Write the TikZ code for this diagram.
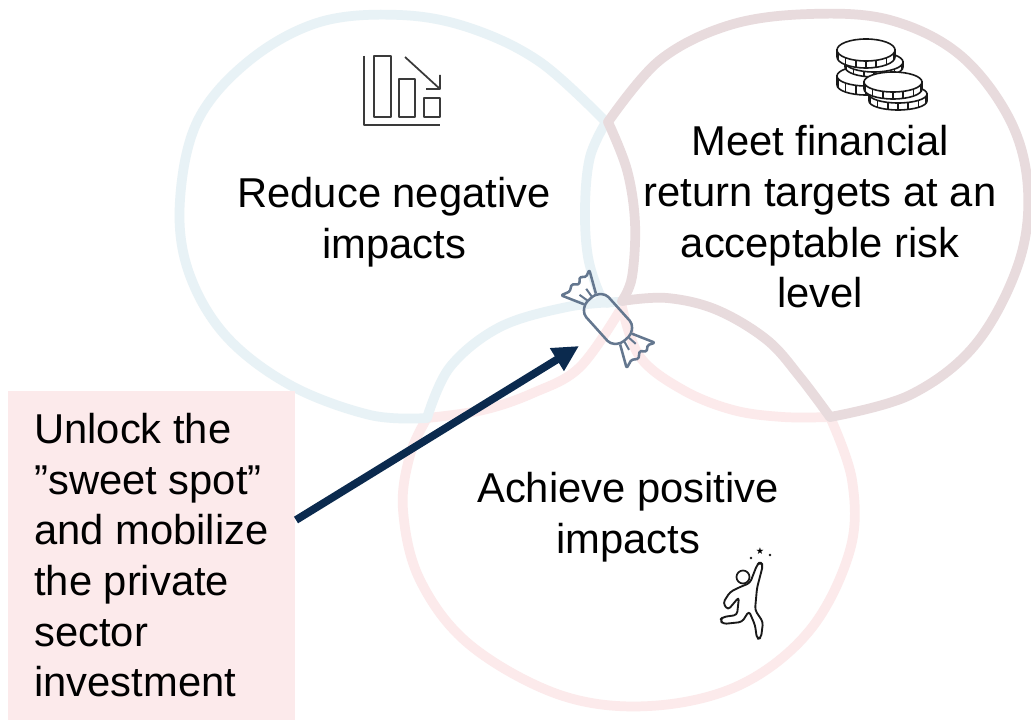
\documentclass[tikz,border=0pt]{standalone}
\usepackage{fontspec}
\setmainfont{Liberation Sans}
\newfontfamily\symfont{DejaVu Sans}
\usetikzlibrary{arrows.meta}
\definecolor{cblue}{HTML}{E8F2F6}
\definecolor{cmauve}{HTML}{E8DBDD}
\definecolor{cpink}{HTML}{FCEAEB}
\definecolor{cnavy}{HTML}{0B2A4E}
\definecolor{cicon}{HTML}{64778F}
\definecolor{cdark}{HTML}{3A3A3A}
\tikzset{
 ringb/.style={draw=cblue,line width=7.3pt,line cap=round,line join=round},
 ringm/.style={draw=cmauve,line width=7.3pt,line cap=round,line join=round},
 ringp/.style={draw=cpink,line width=7.3pt,line cap=round,line join=round},
 lbl/.style={font=\fontsize{31.3}{38}\selectfont,align=center,text=black,inner sep=0pt},
 ico/.style={draw=cdark,line width=1.3pt,line join=round},
 coin/.style={draw=black!90,fill=white,line width=1.2pt},
 candy/.style={draw=cicon,line width=1.9pt,line join=round},
}
\newcommand{\coinshape}[5]{% cx cy rx ry h
 \draw[coin] (#1-#3,#2) -- (#1-#3,#2+#5) arc[start angle=180,end angle=0,x radius=#3,y radius=#4] -- (#1+#3,#2) -- cycle;
 \foreach \t in {20,45,70,90,110,135,160}{\draw[black!90,line width=1pt] ({#1+#3*cos(\t)},{#2+#4*sin(\t)}) -- ++(0,#5);}
 \draw[coin] (#1,#2) ellipse[x radius=#3,y radius=#4];
}
\begin{document}
\begin{tikzpicture}[x=0.75pt,y=-0.75pt]
\useasboundingbox (0,0) rectangle (1031,720);
\fill[white] (0,0) rectangle (1031,720);
% pink parts
\draw[ringp] plot[smooth,tension=0.6] coordinates {(830,417) (852,480) (850,550) (810,630) (740,685) (650,706) (560,695) (470,645) (420,580) (403,510) (410,455) (427,418)};
\draw[ringp] plot[smooth,tension=0.6] coordinates {(427,418) (483,410) (533,393) (580,367) (622,307)};
\draw[ringp] plot[smooth,tension=0.6] coordinates {(622,307) (640,357) (683,390) (733,410) (783,417) (830,417)};
% blue parts
\draw[ringb] plot[smooth,tension=0.6] coordinates {(606,122) (540,62) (470,28) (400,15) (320,22) (250,60) (198,120) (180,200) (188,270) (225,335) (290,385) (370,415) (427,418)};
\draw[ringb] plot[smooth,tension=0.6] coordinates {(427,418) (450,367) (500,327) (567,307) (618,302)};
\draw[ringb] plot[smooth,tension=0.6] coordinates {(606,122) (590,157) (585,207) (588,257) (600,295) (608,303)};
% mauve parts
\draw[ringm] plot[smooth,tension=0.6] coordinates {(608,122) (660,60) (730,25) (810,14) (890,20) (960,55) (1010,120) (1028,190) (1018,265) (975,345) (910,395) (830,417)};
\draw[ringm] plot[smooth,tension=0.6] coordinates {(608,122) (627,170) (635,223) (632,277) (622,301)};
\draw[ringm] plot[smooth,tension=0.6] coordinates {(622,301) (667,298) (717,310) (767,340) (800,377) (830,417)};
% box
\fill[cpink] (8,391) rectangle (295,720);
\node[lbl,align=left,anchor=north west] (boxt) at (34,413) {Unlock the\\”sweet spot”\\and mobilize\\the private\\sector\\investment};
\node[lbl] (t1) at (394,222) {Reduce negative\\impacts};
\node[lbl] (t2) at (820,217) {Meet financial\\return targets at an\\acceptable risk\\level};
\node[lbl] (t3) at (628,517) {Achieve positive\\impacts};
% arrow
\coordinate (as) at (296,520);
\coordinate (ae) at (579,346);
\draw[cnavy,line width=5.8pt,-{Triangle[length=19.5pt,width=18.8pt]}] (as) -- (ae);
% bar icon
\draw[ico] (364,56) -- (364,125) -- (440,125);
\draw[ico] (374,56) rectangle (391,117);
\draw[ico] (399,79) rectangle (415,117);
\draw[ico] (424,98) rectangle (440,117);
\draw[ico] (405,57) -- (440,89) (440,75) -- (440,89) -- (426,89);
% coins
\coinshape{866}{76}{29}{10}{9}
\coinshape{874}{62}{29}{10}{5}
\coinshape{866}{50}{29}{11}{7}
\coinshape{898}{94}{29}{9}{7}
\coinshape{893}{82}{29}{10}{7}
% candy
\begin{scope}[shift={(608,319)},rotate=-48]
\draw[candy,rounded corners=3pt] (-20,-15) -- (20,-15) -- (27,-7) -- (27,7) -- (20,15) -- (-20,15) -- (-27,7) -- (-27,-7) -- cycle;
\draw[candy,rounded corners=1pt] (-27,-8) -- (-37,-13) -- (-49,-19) -- (-46,-12) -- (-50,-7) -- (-45,-2) -- (-50,4) -- (-46,10) -- (-49,19) -- (-37,13) -- (-27,8);
\draw[candy,rounded corners=1pt] (27,-8) -- (37,-13) -- (49,-19) -- (46,-12) -- (50,-7) -- (45,-2) -- (50,4) -- (46,10) -- (49,19) -- (37,13) -- (27,8);
\draw[candy,line width=1.5pt] (-28,-3) -- (-37,-4) (-28,3) -- (-37,5) (28,-3) -- (37,-4) (28,3) -- (37,5);
\end{scope}
% person
\draw[black!90,line width=1.3pt] (743,577) circle (6.5);
\draw[black!90,line width=1.4pt,line join=round,rounded corners=2.5pt] (760,562) -- (763,565) -- (757,588) -- (755,610) -- (763,622) -- (761,638) -- (757,639) -- (755,625) -- (749,611) -- (742,622) -- (723,624) -- (720,620) -- (723,617) -- (737,615) -- (739,597) -- (728,610) -- (723,603) -- (730,592) -- (740,587) -- (750,583) -- (757,565) -- cycle;
\node[font=\symfont\fontsize{7}{7}\selectfont,inner sep=0pt] (star) at (760,551) {★};
\fill[black!90] (751,558) circle (1.3) (770,555) circle (1.3);
\end{tikzpicture}
\end{document}
